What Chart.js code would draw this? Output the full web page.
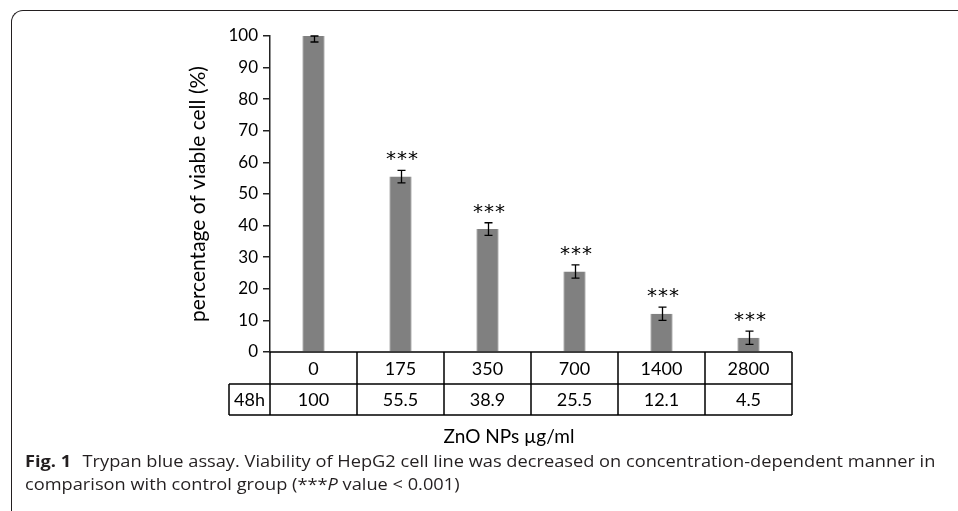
<!DOCTYPE html>
<html>
<head>
<meta charset="utf-8">
<script src="https://cdn.jsdelivr.net/npm/chart.js@4"></script>
<style>
  html, body { margin: 0; padding: 0; background: #fff; }
  #wrap { position: relative; width: 958px; height: 511px; overflow: hidden; }
  #frame { position: absolute; left: 11px; top: 10px; width: 1000px; height: 600px;
    border-top: 1.5px solid #231f20; border-left: 1.5px solid #231f20; border-top-left-radius: 12px; }
  #chart { position: absolute; left: 0; top: 0; }
  .cap { position: absolute; left: 25px; white-space: nowrap; font-family: 'Open Sans'; font-size: 16.5px;
    line-height: 20px; color: #231f20; transform-origin: 0 0; }
  .cap b { font-weight: 700; margin-right: 6px; }
</style>
</head>
<body>
<div id="wrap">
  <div id="frame"></div>
  <canvas id="chart" width="958" height="511"></canvas>
  <div class="cap" id="cap1"><b>Fig. 1</b> Trypan blue assay. Viability of HepG2 cell line was decreased on concentration-dependent manner in</div>
  <div class="cap" id="cap2">comparison with control group (***<i>P</i> value &lt; 0.001)</div>
</div>
<script>
// DATA
const categories = ['0', '175', '350', '700', '1400', '2800'];
const viability = [100, 55.5, 38.9, 25.5, 12.1, 4.5];
const errors = [1.9, 2.0, 2.0, 2.1, 2.1, 2.1];
const marks = ['', '***', '***', '***', '***', '***'];
const rowLabel = '48h';

// caption lines squeezed to the width of the printed caption
const cap1 = document.getElementById('cap1');
const cap2 = document.getElementById('cap2');
const sx = 910 / cap1.offsetWidth;
cap1.style.top = '451px';
cap2.style.top = '474px';
cap1.style.transform = cap2.style.transform = 'scaleX(' + sx + ')';

// ERROR BARS + STARS
const errorBars = {
  id: 'errorBars',
  afterDatasetsDraw(chart) {
    const { ctx, scales: { x, y } } = chart;
    ctx.save();
    ctx.strokeStyle = '#000';
    ctx.lineWidth = 1.3;
    ctx.fillStyle = '#000';
    ctx.font = '20px "DejaVu Sans"';
    ctx.letterSpacing = '1px';
    ctx.textAlign = 'center';
    viability.forEach((v, i) => {
      const cx = Math.round(x.getPixelForValue(i)) + 0.5;
      const top = y.getPixelForValue(Math.min(v + errors[i], y.max));
      const bot = y.getPixelForValue(v - errors[i]);
      ctx.beginPath();
      ctx.moveTo(cx, top); ctx.lineTo(cx, bot);
      ctx.moveTo(cx - 4, top); ctx.lineTo(cx + 4, top);
      ctx.moveTo(cx - 4, bot); ctx.lineTo(cx + 4, bot);
      ctx.stroke();
      if (marks[i]) ctx.fillText(marks[i], cx + 1, y.getPixelForValue(v + errors[i]) - 5);
    });
    ctx.restore();
  }
};

// DATA TABLE UNDER THE PLOT
const dataTable = {
  id: 'dataTable',
  afterDraw(chart) {
    const { ctx, chartArea: { left, right, bottom }, scales: { x } } = chart;
    const r1 = bottom, r2 = bottom + 32, r3 = bottom + 63;
    const headL = left - 41;
    const edges = categories.map((c, i) => i === 0 ? left : (x.getPixelForValue(i - 1) + x.getPixelForValue(i)) / 2);
    edges.push(right);
    ctx.save();
    ctx.strokeStyle = '#000';
    ctx.lineWidth = 1.5;
    ctx.beginPath();
    ctx.moveTo(left, r1); ctx.lineTo(right, r1);
    ctx.moveTo(headL, r2); ctx.lineTo(right, r2);
    ctx.moveTo(headL, r3); ctx.lineTo(right, r3);
    ctx.moveTo(headL, r2); ctx.lineTo(headL, r3);
    edges.forEach(e => { ctx.moveTo(e, r1); ctx.lineTo(e, r3); });
    ctx.stroke();

    ctx.fillStyle = '#000';
    ctx.font = '18px Lato';
    ctx.textAlign = 'center';
    ctx.textBaseline = 'middle';
    categories.forEach((c, i) => {
      const cx = x.getPixelForValue(i);
      ctx.fillText(c, cx, (r1 + r2) / 2 + 1);
      ctx.fillText(String(viability[i]), cx, (r2 + r3) / 2 + 1);
    });
    ctx.fillText(rowLabel, (headL + left) / 2, (r2 + r3) / 2 + 1);

    // x title
    ctx.font = '19px Lato';
    ctx.fillText('ZnO NPs µg/ml', (left + right) / 2 - 22, r3 + 22);
    ctx.restore();
  }
};

new Chart(document.getElementById('chart').getContext('2d'), {
  type: 'bar',
  data: {
    labels: categories,
    datasets: [{
      label: '48h',
      data: viability,
      backgroundColor: '#808080',
      borderColor: '#c4c4c4',
      borderWidth: { left: 1, right: 1, top: 0, bottom: 0 },
      categoryPercentage: 1,
      barPercentage: 0.26
    }]
  },
  options: {
    responsive: false,
    animation: false,
    layout: { padding: { left: 182, right: 166, top: 36, bottom: 159 } },
    plugins: { legend: { display: false }, tooltip: { enabled: false } },
    scales: {
      x: { display: false },
      y: {
        min: 0, max: 100,
        ticks: { stepSize: 10, color: '#000', padding: 5, font: { family: 'Lato', size: 17 } },
        grid: { drawOnChartArea: false, drawTicks: true, tickLength: 7, color: '#222', lineWidth: 1.5 },
        border: { color: '#222', width: 1.5 },
        title: { display: true, text: 'percentage of viable cell (%)', color: '#000', padding: 4,
          font: { family: 'Lato', size: 21 } },
        afterFit(scale) { scale.width = 88; }
      }
    }
  },
  plugins: [errorBars, dataTable]
});
</script>
</body>
</html>
